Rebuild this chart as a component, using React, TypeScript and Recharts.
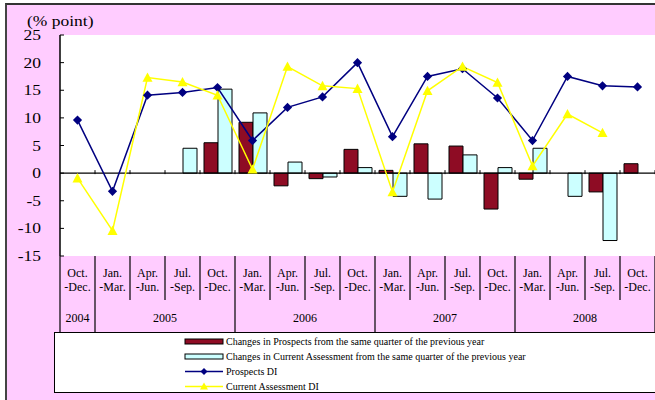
import React from "react";
import {
  ComposedChart,
  Bar,
  Line,
  XAxis,
  YAxis,
  CartesianGrid,
  ReferenceLine,
  Legend,
} from "recharts";

const quarters = [
  "Oct.-Dec.",
  "Jan.-Mar.", "Apr.-Jun.", "Jul.-Sep.", "Oct.-Dec.",
  "Jan.-Mar.", "Apr.-Jun.", "Jul.-Sep.", "Oct.-Dec.",
  "Jan.-Mar.", "Apr.-Jun.", "Jul.-Sep.", "Oct.-Dec.",
  "Jan.-Mar.", "Apr.-Jun.", "Jul.-Sep.", "Oct.-Dec.",
];
const years = [
  "2004",
  "2005", "2005", "2005", "2005",
  "2006", "2006", "2006", "2006",
  "2007", "2007", "2007", "2007",
  "2008", "2008", "2008", "2008",
];

const prospectsDI = [9.6, -3.3, 14.1, 14.6, 15.5, 5.9, 11.9, 13.8, 20.0, 6.6, 17.5, 18.9, 13.6, 5.9, 17.5, 15.8, 15.6];
const currentDI = [-0.9, -10.4, 17.3, 16.5, 14.1, 0.7, 19.3, 15.8, 15.3, -3.4, 14.9, 19.3, 16.4, 1.3, 10.7, 7.3, null];
const prospectsChange = [null, null, null, null, 5.5, 9.2, -2.3, -1.0, 4.3, 0.5, 5.3, 4.9, -6.5, -1.1, null, -3.4, 1.7];
const currentChange = [null, null, null, 4.5, 15.2, 10.9, 2.0, -0.7, 1.0, -4.2, -4.7, 3.3, 1.0, 4.5, -4.2, -12.2, null];

const yTicks = [-15, -10, -5, 0, 5, 10, 15, 20, 25];

const data = quarters.map((q, i) => ({
  quarter: q,
  year: years[i],
  prospectsChange: prospectsChange[i],
  currentChange: currentChange[i],
  prospectsDI: prospectsDI[i],
  currentDI: currentDI[i],
}));

const W = 655;
const H = 400;
const PLOT_LEFT = 60;
const PLOT_TOP = 35;
const AXIS_H = 144;
const PLOT_BOTTOM = H - AXIS_H;
const BAND = (W - PLOT_LEFT) / quarters.length;
const ZERO_Y = PLOT_TOP + ((25 - 0) / 40) * (PLOT_BOTTOM - PLOT_TOP);

const PINK = "#FFCCFF";
const RED = "#8E0C24";
const CYAN = "#CCFFFF";
const NAVY = "#000080";
const YELLOW = "#FFFF00";
const FONT = "'Liberation Serif', 'Times New Roman', serif";

const series = [
  { key: "prospectsChange", name: "Changes in Prospects from the same quarter of the previous year", kind: "bar", color: RED },
  { key: "currentChange", name: "Changes in Current Assessment from the same quarter of the previous year", kind: "bar", color: CYAN },
  { key: "prospectsDI", name: "Prospects DI", kind: "diamond", color: NAVY },
  { key: "currentDI", name: "Current Assessment DI", kind: "triangle", color: YELLOW },
];

const Diamond = (props: any) => {
  const { cx, cy, stroke } = props;
  if (cx == null || cy == null || props.value == null) return null;
  return <polygon points={`${cx},${cy - 4.6} ${cx + 4.6},${cy} ${cx},${cy + 4.6} ${cx - 4.6},${cy}`} fill={stroke} />;
};

const Triangle = (props: any) => {
  const { cx, cy, stroke } = props;
  if (cx == null || cy == null || props.value == null) return null;
  return <polygon points={`${cx},${cy - 5} ${cx + 5},${cy + 4.3} ${cx - 5},${cy + 4.3}`} fill={stroke} />;
};

// y labels are drawn a bit wide, with the tick marks pointing into the plot
const YTick = (props: any) => {
  const { y, payload } = props;
  return (
    <g>
      <line x1={PLOT_LEFT} x2={PLOT_LEFT + 4} y1={y} y2={y} stroke="#000" />
      <text
        transform={`translate(41,${y + 5}) scale(1.25,1)`}
        textAnchor="end"
        fontFamily={FONT}
        fontSize={14}
        fill="#000"
      >
        {payload.value}
      </text>
    </g>
  );
};

const XTick = (props: any) => {
  const { x, y, index } = props;
  const [a, b] = quarters[index].split("-");
  const right = x + BAND / 2;
  const yearEnd = index === quarters.length - 1 || years[index + 1] !== years[index];
  const first = index === 0 || years[index - 1] !== years[index];
  const count = years.filter((yr) => yr === years[index]).length;
  return (
    <g>
      {index === 0 && <line x1={x - BAND / 2} x2={x - BAND / 2} y1={y} y2={y + 76} stroke="#000" strokeWidth={1.2} />}
      <line x1={right} x2={right} y1={y} y2={yearEnd ? y + 76 : y + 44} stroke="#000" strokeWidth={1.2} />
      <line x1={right} x2={right} y1={ZERO_Y - 3} y2={ZERO_Y + 1} stroke="#000" />
      <text x={x} y={y + 20.5} textAnchor="middle" fontFamily={FONT} fontSize={12} fill="#000">
        {a}
      </text>
      <text x={x} y={y + 34.5} textAnchor="middle" fontFamily={FONT} fontSize={12} fill="#000">
        -{b}
      </text>
      {first && (
        <text x={x + ((count - 1) * BAND) / 2} y={y + 66} textAnchor="middle" fontFamily={FONT} fontSize={12} fill="#000">
          {years[index]}
        </text>
      )}
    </g>
  );
};

const LegendBox = (props: any) => {
  const payload = props.payload || [];
  const items = series
    .map((s) => ({ s, entry: payload.find((p: any) => p.dataKey === s.key) }))
    .filter((it) => it.entry);
  const ix = 131;
  const iw = 38;
  const mid = ix + iw / 2;
  return (
    <svg width={601} height={61} style={{ display: "block" }}>
      <rect x={0.5} y={0.5} width={605} height={60} fill="#fff" stroke="#000" />
      {items.map(({ s, entry }, i) => {
        const cy = 9.5 + i * 15;
        let icon;
        if (s.kind === "bar") {
          icon = <rect x={ix} y={cy - 2.5} width={iw} height={5} fill={s.color} stroke="#000" />;
        } else {
          const mk =
            s.kind === "diamond" ? (
              <polygon points={`${mid},${cy - 3.5} ${mid + 3.5},${cy} ${mid},${cy + 3.5} ${mid - 3.5},${cy}`} fill={s.color} />
            ) : (
              <polygon points={`${mid},${cy - 4} ${mid + 4},${cy + 3} ${mid - 4},${cy + 3}`} fill={s.color} />
            );
          icon = (
            <g>
              <line x1={ix} x2={ix + iw} y1={cy} y2={cy} stroke={s.color} strokeWidth={1.5} />
              {mk}
            </g>
          );
        }
        return (
          <g key={s.key}>
            {icon}
            <text x={ix + iw + 3} y={cy + 3.5} fontFamily={FONT} fontSize={10} fill="#000">
              {entry.value}
            </text>
          </g>
        );
      })}
    </svg>
  );
};

export default function App() {
  return (
    <div style={{ position: "absolute", left: 0, top: 0, width: W, height: H, background: "#fff", overflow: "hidden" }}>
      <div
        style={{
          position: "absolute",
          left: 5,
          top: 3,
          width: W,
          height: H,
          background: PINK,
          borderTop: "2px solid #333",
          borderLeft: "2px solid #444",
        }}
      />
      <div style={{ position: "absolute", left: 0, top: 0 }}>
        <ComposedChart
          width={W}
          height={H}
          data={data}
          margin={{ top: PLOT_TOP, right: 0, bottom: 0, left: 0 }}
          barSize={14}
          barGap={0}
        >
          <CartesianGrid horizontal={false} vertical={false} fill="#fff" />
          <XAxis
            dataKey="quarter"
            height={AXIS_H}
            interval={0}
            tickLine={false}
            axisLine={false}
            tickSize={0}
            tickMargin={0}
            tick={<XTick />}
          />
          <YAxis
            width={PLOT_LEFT}
            domain={[-15, 25]}
            ticks={yTicks}
            interval={0}
            tickLine={false}
            axisLine={{ stroke: "#000", strokeWidth: 1.5 }}
            tick={<YTick />}
            label={{
              content: () => (
                <text
                  transform="translate(27,26) scale(1.25,1)"
                  fontFamily={FONT}
                  fontSize={14}
                  fill="#000"
                >
                  (% point)
                </text>
              ),
            }}
          />
          <ReferenceLine y={0} stroke="#000" strokeWidth={1.2} />
          <Bar dataKey="prospectsChange" name={series[0].name} fill={RED} stroke="#000" strokeWidth={1} isAnimationActive={false} />
          <Bar dataKey="currentChange" name={series[1].name} fill={CYAN} stroke="#000" strokeWidth={1} isAnimationActive={false} />
          <Line
            dataKey="prospectsDI"
            name={series[2].name}
            stroke={NAVY}
            strokeWidth={1.5}
            dot={<Diamond />}
            activeDot={false}
            isAnimationActive={false}
          />
          <Line
            dataKey="currentDI"
            name={series[3].name}
            stroke={YELLOW}
            strokeWidth={1.5}
            dot={<Triangle />}
            activeDot={false}
            isAnimationActive={false}
          />
          <Legend
            layout="horizontal"
            verticalAlign="middle"
            align="center"
            content={<LegendBox />}
            wrapperStyle={{ left: 54, top: 332, width: 601, height: 61 }}
          />
        </ComposedChart>
      </div>
    </div>
  );
}
